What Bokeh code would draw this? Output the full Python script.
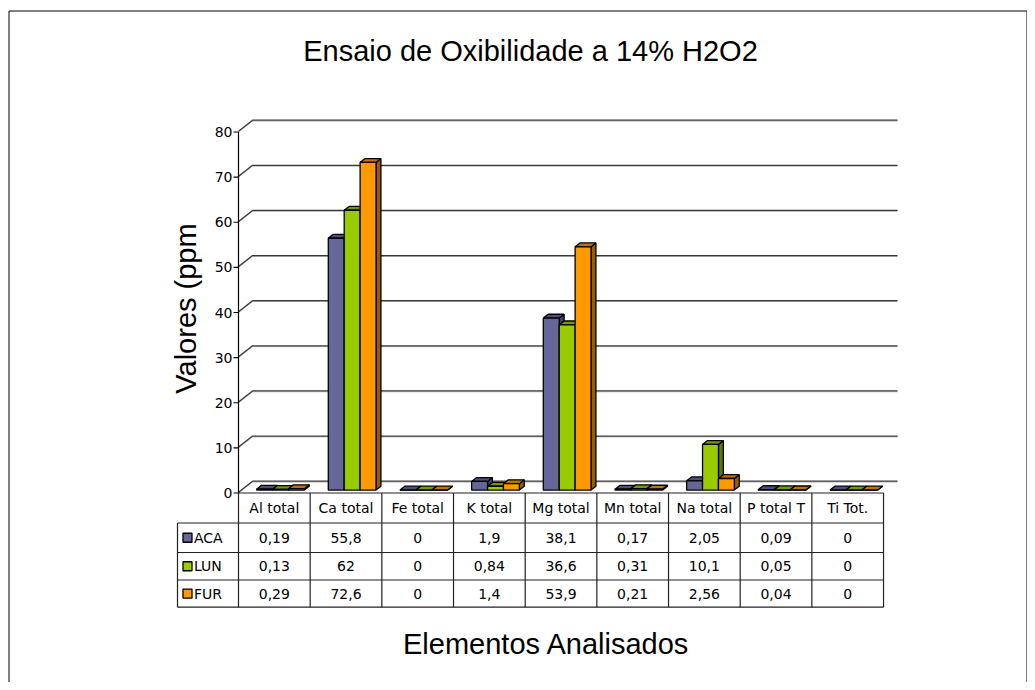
from bokeh.plotting import figure
from bokeh.models import Range1d, ColumnDataSource
from bokeh.embed import file_html
from bokeh.resources import INLINE
from bokeh.core.properties import value
import math

# ---------------- data ----------------
title_text = "Ensaio de Oxibilidade a 14% H2O2"
x_title = "Elementos Analisados"
y_title = "Valores (ppm"
categories = ["Al total", "Ca total", "Fe total", "K total", "Mg total",
              "Mn total", "Na total", "P total T", "Ti Tot."]
series_names = ["ACA", "LUN", "FUR"]
aca = [0.19, 55.8, 0, 1.9, 38.1, 0.17, 2.05, 0.09, 0]
lun = [0.13, 62, 0, 0.84, 36.6, 0.31, 10.1, 0.05, 0]
fur = [0.29, 72.6, 0, 1.4, 53.9, 0.21, 2.56, 0.04, 0]
y_ticks = [0, 10, 20, 30, 40, 50, 60, 70, 80]

front_colors = ["#666699", "#99CC00", "#FF9900"]
top_colors = ["#4D4D80", "#739900", "#BF7300"]
side_colors = ["#3D3D66", "#5C7A00", "#995C00"]

# ---------------- layout (pixels) ----------------
W, H = 1027, 682
PAGE = 0
X0_PAGE, Y0_PAGE = 238, 492.5     # position of category 0 / value 0
PX_X = 71.67                      # px per category
PX_Y = 4.5125                     # px per value unit


def hx(px):
    return px / PX_X


def vy(px):
    return px / PX_Y


x_start = (PAGE - X0_PAGE) / PX_X
x_end = (PAGE + W - X0_PAGE) / PX_X
y_end = (Y0_PAGE - PAGE) / PX_Y
y_start = -(PAGE + H - Y0_PAGE) / PX_Y

p = figure(width=W, height=H, x_range=Range1d(x_start, x_end),
           y_range=Range1d(y_start, y_end), x_axis_type=None, y_axis_type=None,
           toolbar_location=None, output_backend="svg", min_border=0)
p.grid.visible = False
p.outline_line_color = None
p.background_fill_color = "white"

n = len(categories)
DEPTH_X, DEPTH_Y = hx(14), vy(11)
ymax = y_ticks[-1]

# outer border (left, top, right)
bl, bt, br = hx(8.5 - X0_PAGE), vy(Y0_PAGE - 10.5), hx(1026.5 - X0_PAGE)
p.line([bl, bl, br, br], [y_start, bt, bt, y_start], line_color="black", line_width=1)

# ---------------- walls / gridlines ----------------
grid_col = "#3a3a3a"
for t in y_ticks:
    p.line([0, DEPTH_X, n + DEPTH_X], [t, t + DEPTH_Y, t + DEPTH_Y],
           line_color="#b0b0b0", line_width=1)
    p.line([0, DEPTH_X, n + DEPTH_X], [t + vy(0.8), t + DEPTH_Y + vy(0.8), t + DEPTH_Y + vy(0.8)],
           line_color=grid_col, line_width=1.2)

# y axis line and ticks
p.line([0, 0], [0, ymax], line_color="black", line_width=1.2)
p.segment(x0=[hx(-5)] * len(y_ticks), y0=y_ticks, x1=[0] * len(y_ticks), y1=y_ticks,
          line_color="black", line_width=1.2)
p.text(x=[hx(-6)] * len(y_ticks), y=y_ticks, text=[str(t) for t in y_ticks],
       text_align="right", text_baseline="middle", text_font=value("DejaVu Sans"),
       text_font_size="14px", text_color="black")

# ---------------- 3D bars ----------------
F0, F1 = 0.27, 0.62
BAR_OFF, BAR_W = 0.2, 0.222
for i, vals in enumerate([aca, lun, fur]):
    xl = [j + BAR_OFF + i * BAR_W + F0 * DEPTH_X for j in range(n)]
    xr = [x + BAR_W for x in xl]
    yb = [F0 * DEPTH_Y] * n
    yt = [v + F0 * DEPTH_Y for v in vals]
    ddx, ddy = (F1 - F0) * DEPTH_X, (F1 - F0) * DEPTH_Y
    side_xs = [[a, a + ddx, a + ddx, a] for a in xr]
    side_ys = [[b, b + ddy, t + ddy, t] for b, t in zip(yb, yt)]
    top_xs = [[a, b, b + ddx, a + ddx] for a, b in zip(xl, xr)]
    top_ys = [[t, t, t + ddy, t + ddy] for t in yt]
    p.patches(side_xs, side_ys, fill_color=side_colors[i], line_color="black", line_width=1.3)
    p.patches(top_xs, top_ys, fill_color=top_colors[i], line_color="black", line_width=1.3)
    src = ColumnDataSource(dict(left=xl, right=xr, bottom=yb, top=yt))
    p.quad(left="left", right="right", bottom="bottom", top="top", source=src,
           fill_color=front_colors[i], line_color="black", line_width=1.3)

# ---------------- data table ----------------
row_px = [0, 30, 59.5, 87, 114.2]          # row boundaries below value 0
row_y = [-vy(r) for r in row_px]
leg_left = hx(177 - X0_PAGE)
tcol = "#222222"
p.line([0, n], [row_y[0], row_y[0]], line_color=tcol, line_width=1.2)
for ry in row_y[1:]:
    p.line([leg_left, n], [ry, ry], line_color=tcol, line_width=1.2)
for k in range(n + 1):
    p.line([k, k], [row_y[0], row_y[-1]], line_color=tcol, line_width=1.2)
p.line([leg_left, leg_left], [row_y[1], row_y[-1]], line_color=tcol, line_width=1.2)

font_tbl = value("DejaVu Sans")
hdr_y = (row_y[0] + row_y[1]) / 2
p.text(x=[k + 0.5 for k in range(n)], y=[hdr_y] * n, text=categories,
       text_align="center", text_baseline="middle", text_font=font_tbl,
       text_font_size="14px", text_color="black")


def fmt(v):
    if float(v).is_integer():
        return str(int(v))
    return ("%g" % v).replace(".", ",")


for i, vals in enumerate([aca, lun, fur]):
    cy = (row_y[i + 1] + row_y[i + 2]) / 2
    p.text(x=[k + 0.5 for k in range(n)], y=[cy] * n, text=[fmt(v) for v in vals],
           text_align="center", text_baseline="middle", text_font=font_tbl,
           text_font_size="14px", text_color="black")
    p.rect(x=[hx(187 - X0_PAGE)], y=[cy], width=9, height=9, width_units="screen",
           height_units="screen", fill_color=front_colors[i], line_color="black", line_width=1.3)
    p.text(x=[hx(193.5 - X0_PAGE)], y=[cy], text=[series_names[i]], text_align="left",
           text_baseline="middle", text_font=font_tbl, text_font_size="14px", text_color="black")

# ---------------- titles ----------------
p.text(x=[hx(530 - X0_PAGE)], y=[vy(Y0_PAGE - 50)], text=[title_text], text_align="center",
       text_baseline="middle", text_font=value("Liberation Sans"), text_font_size="29px",
       text_color="black")
p.text(x=[hx(546 - X0_PAGE)], y=[vy(Y0_PAGE - 643)], text=[x_title], text_align="center",
       text_baseline="middle", text_font=value("Liberation Sans"), text_font_size="29px",
       text_color="black")
p.text(x=[hx(185 - X0_PAGE)], y=[vy(Y0_PAGE - 308)], text=[y_title], text_align="center",
       text_baseline="middle", angle=math.pi / 2, text_font=value("Liberation Sans"),
       text_font_size="29px", text_color="black")

open("out.html", "w").write(file_html(p, INLINE))
